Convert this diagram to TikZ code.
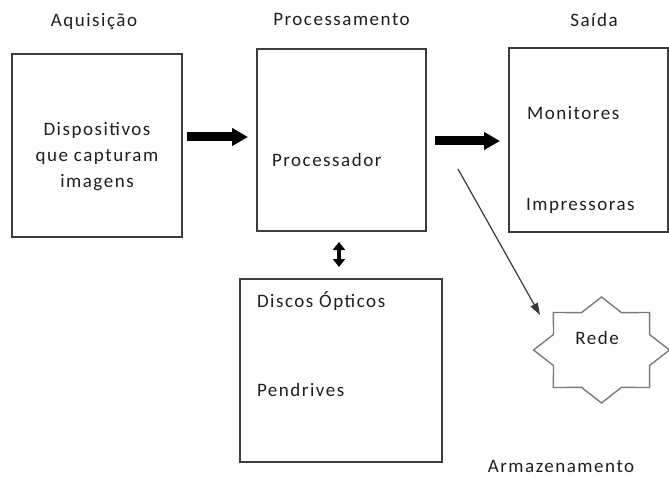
\documentclass[tikz,border=0pt]{standalone}
\usepackage{fontspec}
\setmainfont{Carlito}[LetterSpace=8]
\usetikzlibrary{arrows.meta,calc}
\definecolor{boxline}{HTML}{3C3C3C}
\definecolor{starline}{HTML}{7A7A7A}
\definecolor{txt}{HTML}{1E1E1E}
\definecolor{thinarrow}{HTML}{3A3A3A}
\begin{document}
\begin{tikzpicture}[x=1bp,y=-1bp,
  lbl/.style={font=\fontsize{19bp}{23bp}\selectfont, text=txt, inner sep=0pt, outer sep=0pt},
  box/.style={draw=boxline, line width=1.4bp, inner sep=0pt, outer sep=0pt},
  bigarrow/.style={line width=9bp, -{Triangle[length=16bp,width=17bp]}},
  dblarrow/.style={line width=4bp, {Triangle[length=8bp,width=12bp]}-{Triangle[length=8bp,width=12bp]}},
  thin/.style={draw=thinarrow, line width=1.2bp, -{Triangle[length=12bp,width=8bp]}},
  starbox/.style={draw=starline, line width=1.4bp, line join=miter}]
\useasboundingbox (0,0) rectangle (669,477);

% boxes
\node[box, minimum width=170bp, minimum height=183bp] (box1) at (97,145.5) {};
\node[box, minimum width=169bp, minimum height=182bp] (box2) at (341.5,140) {};
\node[box, minimum width=159bp, minimum height=184bp] (box3) at (588.5,140) {};
\node[box, minimum width=202bp, minimum height=183bp] (box4) at (341,370.5) {};

% headings
\node[lbl, anchor=base] (taq) at (94,27) {Aquisição};
\node[lbl, anchor=base] (tpr) at (341.5,26) {Processamento};
\node[lbl, anchor=base] (tsa) at (594,27) {Saída};

% box texts
\node[lbl, anchor=base] (t1a) at (97,136) {Dispositivos};
\node[lbl, anchor=base] (t1b) at (97,162) {que capturam};
\node[lbl, anchor=base] (t1c) at (97,188) {imagens};
\node[lbl, anchor=base west] (tproc) at (272,167) {Processador};
\node[lbl, anchor=base west] (tmon) at (527,120) {Monitores};
\node[lbl, anchor=base west] (timp) at (526,211) {Impressoras};
\node[lbl, anchor=base west] (tdis) at (257,307) {Discos Ópticos};
\node[lbl, anchor=base west] (tpen) at (257,396) {Pendrives};

% star
\coordinate (rc) at (601.5,350);
\begin{scope}[shift={(rc)}]
\draw[starbox] (0:68 and 53) -- (22.5:52 and 40.5) -- (45:68 and 53) -- (67.5:52 and 40.5)
  -- (90:68 and 53) -- (112.5:52 and 40.5) -- (135:68 and 53) -- (157.5:52 and 40.5)
  -- (180:68 and 53) -- (202.5:52 and 40.5) -- (225:68 and 53) -- (247.5:52 and 40.5)
  -- (270:68 and 53) -- (292.5:52 and 40.5) -- (315:68 and 53) -- (337.5:52 and 40.5) -- cycle;
\end{scope}
\node[lbl, anchor=base] (trede) at (597,344) {Rede};
\node[lbl, anchor=base] (tarm) at (561,472) {Armazenamento};

% arrows
\coordinate (a1s) at (187,137);
\coordinate (a1e) at (248,137);
\coordinate (a2s) at (435,141);
\coordinate (a2e) at (500,141);
\coordinate (a3s) at (339,242);
\coordinate (a3e) at (339,267);
\coordinate (a4s) at (458,169);
\coordinate (a4e) at (540,315);
\draw[bigarrow] (a1s) -- (a1e);
\draw[bigarrow] (a2s) -- (a2e);
\draw[dblarrow] (a3s) -- (a3e);
\draw[thin] (a4s) -- (a4e);
\end{tikzpicture}
\end{document}
